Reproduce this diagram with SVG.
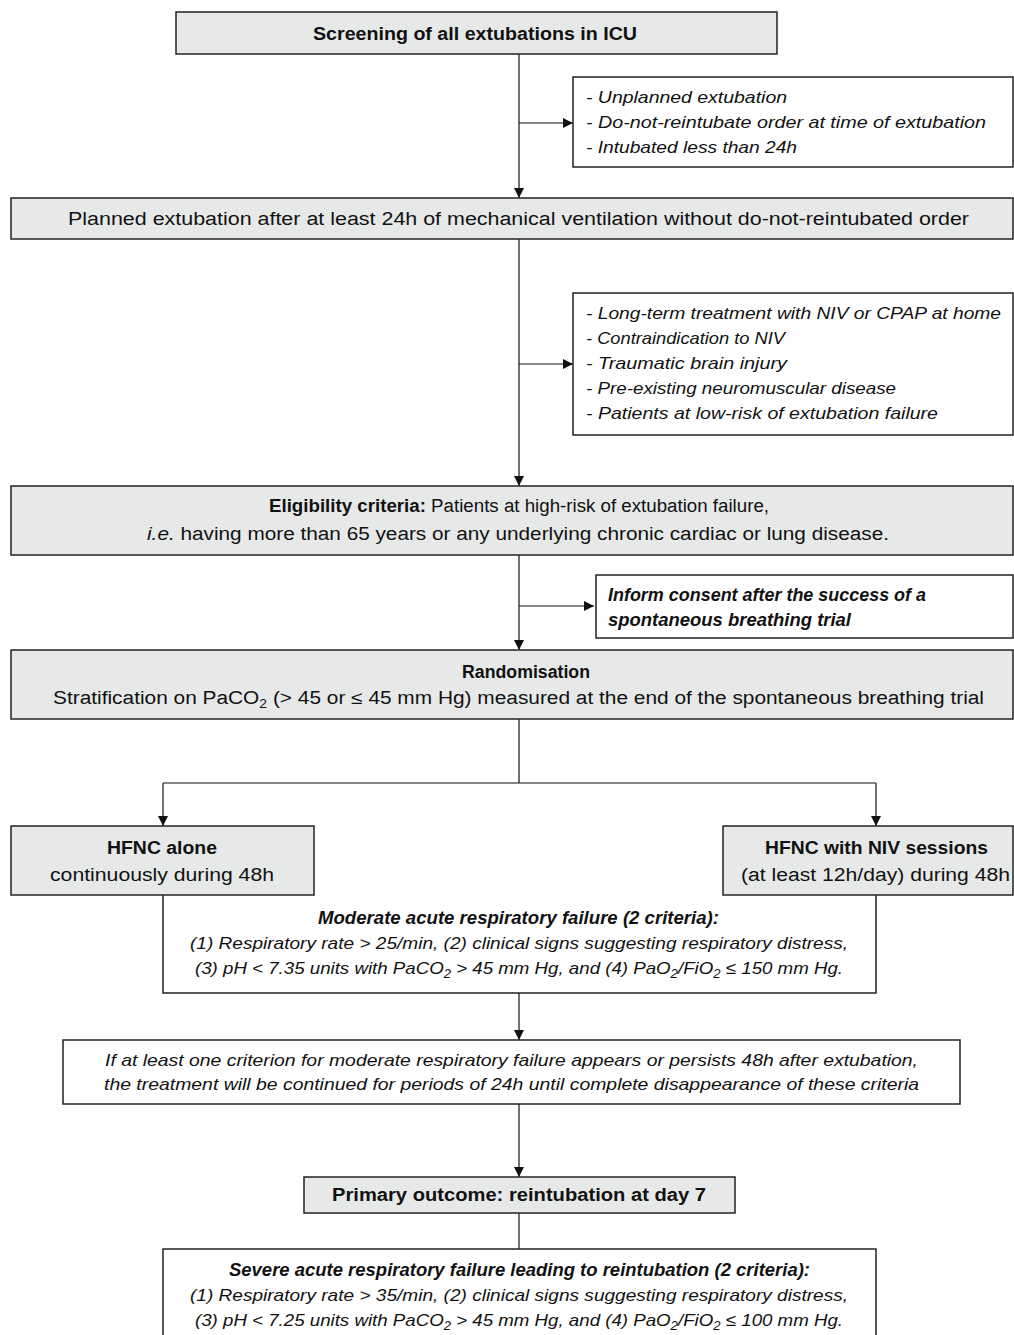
<svg xmlns="http://www.w3.org/2000/svg" width="1014" height="1335" viewBox="0 0 1014 1335">
<defs>
<marker id="ah" markerUnits="userSpaceOnUse" markerWidth="10" markerHeight="10" refX="10" refY="5" orient="auto">
<path d="M0,0 L10,5 L0,10 z" fill="#111"/>
</marker>
<style>
.g{fill:#e7e9e9;stroke:#222;stroke-width:1.5}
.w{fill:#fff;stroke:#222;stroke-width:1.5}
.c{fill:none;stroke:#111;stroke-width:1.2}
text{font-family:"Liberation Sans",Arial,sans-serif;fill:#111;font-size:18px}
.m{text-anchor:middle}
.b{font-weight:bold}
.i{font-style:italic}
.l{font-size:17px;font-style:italic}
.s{font-size:12px}
</style>
</defs>
<rect width="1014" height="1335" fill="#fff"/>

<g id="connectors">
<path class="c" d="M519,54 V198" marker-end="url(#ah)"/>
<path class="c" d="M519,123 H573" marker-end="url(#ah)"/>
<path class="c" d="M519,239 V486" marker-end="url(#ah)"/>
<path class="c" d="M519,364 H573" marker-end="url(#ah)"/>
<path class="c" d="M519,555 V650" marker-end="url(#ah)"/>
<path class="c" d="M519,606 H594" marker-end="url(#ah)"/>
<path class="c" d="M519,719 V783 M163,783 H876"/>
<path class="c" d="M163,783 V826" marker-end="url(#ah)"/>
<path class="c" d="M876,783 V826" marker-end="url(#ah)"/>
<path class="c" d="M519,993 V1040" marker-end="url(#ah)"/>
<path class="c" d="M519,1104 V1177" marker-end="url(#ah)"/>
<path class="c" d="M519,1213 V1249"/>
</g>

<g id="screening">
<rect class="g" x="176" y="12" width="601" height="42"/>
<text class="m b" x="475" y="40" textLength="324" lengthAdjust="spacingAndGlyphs">Screening of all extubations in ICU</text>
</g>

<g id="exclusion1">
<rect class="w" x="573" y="77" width="440" height="90"/>
<text class="l" x="586" y="103" textLength="201" lengthAdjust="spacingAndGlyphs">- Unplanned extubation</text>
<text class="l" x="586" y="128" textLength="400" lengthAdjust="spacingAndGlyphs">- Do-not-reintubate order at time of extubation</text>
<text class="l" x="586" y="153" textLength="211" lengthAdjust="spacingAndGlyphs">- Intubated less than 24h</text>
</g>

<g id="planned">
<rect class="g" x="11" y="198" width="1002" height="41"/>
<text class="m" x="518.5" y="225" textLength="901" lengthAdjust="spacingAndGlyphs">Planned extubation after at least 24h of mechanical ventilation without do-not-reintubated order</text>
</g>

<g id="exclusion2">
<rect class="w" x="573" y="293" width="440" height="142"/>
<text class="l" x="586" y="319" textLength="415" lengthAdjust="spacingAndGlyphs">- Long-term treatment with NIV or CPAP at home</text>
<text class="l" x="586" y="344" textLength="199" lengthAdjust="spacingAndGlyphs">- Contraindication to NIV</text>
<text class="l" x="586" y="369" textLength="201" lengthAdjust="spacingAndGlyphs">- Traumatic brain injury</text>
<text class="l" x="586" y="394" textLength="310" lengthAdjust="spacingAndGlyphs">- Pre-existing neuromuscular disease</text>
<text class="l" x="586" y="419" textLength="352" lengthAdjust="spacingAndGlyphs">- Patients at low-risk of extubation failure</text>
</g>

<g id="eligibility">
<rect class="g" x="11" y="486" width="1002" height="69"/>
<text class="m" x="519" y="512" textLength="500" lengthAdjust="spacingAndGlyphs"><tspan class="b">Eligibility criteria:</tspan> Patients at high-risk of extubation failure,</text>
<text class="m" x="518" y="540" textLength="742" lengthAdjust="spacingAndGlyphs"><tspan class="i">i.e.</tspan> having more than 65 years or any underlying chronic cardiac or lung disease.</text>
</g>

<g id="consent">
<rect class="w" x="596" y="575" width="417" height="63"/>
<text class="b i" x="608" y="601" textLength="318" lengthAdjust="spacingAndGlyphs">Inform consent after the success of a</text>
<text class="b i" x="608" y="626" textLength="243" lengthAdjust="spacingAndGlyphs">spontaneous breathing trial</text>
</g>

<g id="randomisation">
<rect class="g" x="11" y="650" width="1002" height="69"/>
<text class="m b" x="526" y="678" textLength="128" lengthAdjust="spacingAndGlyphs">Randomisation</text>
<text class="m" x="518.5" y="704" textLength="931" lengthAdjust="spacingAndGlyphs">Stratification on PaCO<tspan class="s" dy="4">2</tspan><tspan dy="-4"> (&gt; 45 or ≤ 45 mm Hg) measured at the end of the spontaneous breathing trial</tspan></text>
</g>

<g id="hfnc-alone">
<rect class="g" x="11" y="826" width="303" height="69"/>
<text class="m b" x="162" y="854" textLength="110" lengthAdjust="spacingAndGlyphs">HFNC alone</text>
<text class="m" x="162" y="881" textLength="224" lengthAdjust="spacingAndGlyphs">continuously during 48h</text>
</g>

<g id="hfnc-niv">
<rect class="g" x="723" y="826" width="290" height="69"/>
<text class="m b" x="876.5" y="854" textLength="223" lengthAdjust="spacingAndGlyphs">HFNC with NIV sessions</text>
<text class="m" x="875.5" y="881" textLength="269" lengthAdjust="spacingAndGlyphs">(at least 12h/day) during 48h</text>
</g>

<g id="moderate">
<path d="M163,895 V993 H876 V895" fill="none" stroke="#222" stroke-width="1.5"/>
<text class="m b i" x="518.5" y="924" textLength="401" lengthAdjust="spacingAndGlyphs">Moderate acute respiratory failure (2 criteria):</text>
<text class="m l" x="519" y="949" textLength="658" lengthAdjust="spacingAndGlyphs">(1) Respiratory rate &gt; 25/min, (2) clinical signs suggesting respiratory distress,</text>
<text class="m l" x="519" y="974" textLength="648" lengthAdjust="spacingAndGlyphs">(3) pH &lt; 7.35 units with PaCO<tspan class="s" dy="4">2</tspan><tspan dy="-4"> &gt; 45 mm Hg, and (4) PaO</tspan><tspan class="s" dy="4">2</tspan><tspan dy="-4">/FiO</tspan><tspan class="s" dy="4">2</tspan><tspan dy="-4"> ≤ 150 mm Hg.</tspan></text>
</g>

<g id="continuation">
<rect class="w" x="63" y="1040" width="897" height="64"/>
<text class="m l" x="511.5" y="1066" textLength="813" lengthAdjust="spacingAndGlyphs">If at least one criterion for moderate respiratory failure appears or persists 48h after extubation,</text>
<text class="m l" x="511.5" y="1090" textLength="815" lengthAdjust="spacingAndGlyphs">the treatment will be continued for periods of 24h until complete disappearance of these criteria</text>
</g>

<g id="primary">
<rect class="g" x="304" y="1177" width="431" height="36"/>
<text class="m b" x="519" y="1201" textLength="374" lengthAdjust="spacingAndGlyphs">Primary outcome: reintubation at day 7</text>
</g>

<g id="severe">
<rect class="w" x="163" y="1249" width="713" height="100"/>
<text class="m b i" x="519.5" y="1276" textLength="581" lengthAdjust="spacingAndGlyphs">Severe acute respiratory failure leading to reintubation (2 criteria):</text>
<text class="m l" x="519" y="1301" textLength="658" lengthAdjust="spacingAndGlyphs">(1) Respiratory rate &gt; 35/min, (2) clinical signs suggesting respiratory distress,</text>
<text class="m l" x="519" y="1326" textLength="648" lengthAdjust="spacingAndGlyphs">(3) pH &lt; 7.25 units with PaCO<tspan class="s" dy="4">2</tspan><tspan dy="-4"> &gt; 45 mm Hg, and (4) PaO</tspan><tspan class="s" dy="4">2</tspan><tspan dy="-4">/FiO</tspan><tspan class="s" dy="4">2</tspan><tspan dy="-4"> ≤ 100 mm Hg.</tspan></text>
</g>
</svg>
